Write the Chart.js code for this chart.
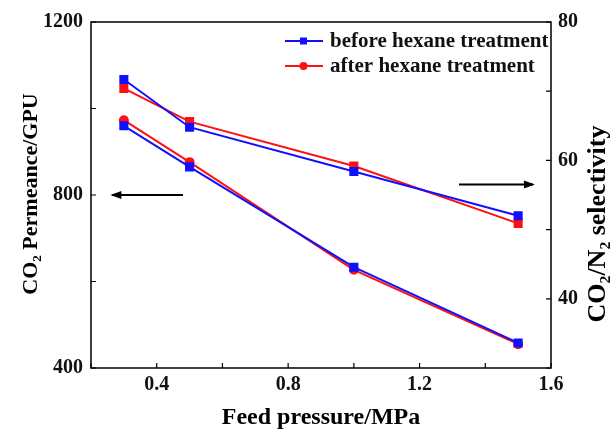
<!DOCTYPE html>
<html>
<head>
<meta charset="utf-8">
<script src="https://cdn.jsdelivr.net/npm/chart.js@4.4.0/dist/chart.umd.min.js"></script>
<style>
  body { margin: 0; background: #fff; }
  #wrap { width: 612px; height: 429px; }
</style>
</head>
<body>
<div id="wrap"><canvas id="myChart" width="612" height="429"></canvas></div>
<script>
// feed pressure (MPa)
const pressure = [0.3, 0.5, 1.0, 1.5];

// CO2 permeance, GPU (left axis)
const permBefore = [960, 865, 633, 458];
const permAfter = [973, 876, 627, 455];

// CO2/N2 selectivity (right axis)
const selBefore = [71.7, 64.8, 58.4, 52.0];
const selAfter = [70.4, 65.6, 59.2, 50.9];

const legendNames = ['before hexane treatment', 'after hexane treatment'];
const xLabels = [0.4, 0.8, 1.2, 1.6];
const leftLabels = [400, 800, 1200];
const rightLabels = [40, 60, 80];

const FONT = '"Liberation Serif", "Times New Roman", serif';
const BLUE = '#1010ff';
const RED = '#ff1010';

function pts(xs, ys) {
    return xs.map((x, i) => ({ x: x, y: ys[i] }));
}

// inside ticks, frame, titles, arrows, legend
const decorPlugin = {
    id: 'decor',
    afterDraw(chart) {
        const ctx = chart.ctx;
        const a = chart.chartArea;
        const sx = chart.scales.x;
        const sl = chart.scales.y;
        const sr = chart.scales.y2;
        ctx.save();
        ctx.strokeStyle = '#000';
        ctx.lineWidth = 1.5;
        ctx.strokeRect(a.left, a.top, a.right - a.left, a.bottom - a.top);

        ctx.lineWidth = 1.2;
        ctx.beginPath();
        sx.ticks.forEach(t => {
            const px = sx.getPixelForValue(t.value);
            ctx.moveTo(px, a.bottom);
            ctx.lineTo(px, a.bottom - 5);
        });
        sl.ticks.forEach(t => {
            const py = sl.getPixelForValue(t.value);
            ctx.moveTo(a.left, py);
            ctx.lineTo(a.left + 5, py);
        });
        sr.ticks.forEach(t => {
            const py = sr.getPixelForValue(t.value);
            ctx.moveTo(a.right, py);
            ctx.lineTo(a.right - 5, py);
        });
        ctx.stroke();

        // arrows
        function arrow(x1, x2, y) {
            ctx.beginPath();
            ctx.lineWidth = 2;
            ctx.moveTo(x1, y);
            ctx.lineTo(x2, y);
            ctx.stroke();
            const d = x2 > x1 ? 1 : -1;
            ctx.beginPath();
            ctx.fillStyle = '#000';
            ctx.moveTo(x2 + d * 2, y);
            ctx.lineTo(x2 - d * 9, y - 4);
            ctx.lineTo(x2 - d * 9, y + 4);
            ctx.closePath();
            ctx.fill();
        }
        arrow(sx.getPixelForValue(0.48), sx.getPixelForValue(0.265), sl.getPixelForValue(800));
        arrow(sx.getPixelForValue(1.32), sx.getPixelForValue(1.545), sr.getPixelForValue(56.5));

        // titles
        ctx.fillStyle = '#000';
        ctx.textAlign = 'center';
        ctx.textBaseline = 'middle';
        ctx.font = 'bold 24px ' + FONT;
        ctx.fillText('Feed pressure/MPa', (a.left + a.right) / 2, 418);
        ctx.font = 'bold 22px ' + FONT;
        ctx.save();
        ctx.translate(31, 194);
        ctx.rotate(-Math.PI / 2);
        ctx.fillText('CO\u2082 Permeance/GPU', 0, 0);
        ctx.restore();
        ctx.font = 'bold 26px ' + FONT;
        ctx.save();
        ctx.translate(598, 224);
        ctx.rotate(-Math.PI / 2);
        ctx.fillText('CO\u2082/N\u2082 selectivity', 0, 0);
        ctx.restore();

        // legend
        const cols = [BLUE, RED];
        const shapes = ['rect', 'circle'];
        ctx.textAlign = 'left';
        ctx.font = 'bold 21px ' + FONT;
        legendNames.forEach((name, i) => {
            const y = 41 + i * 25;
            ctx.strokeStyle = cols[i];
            ctx.fillStyle = cols[i];
            ctx.lineWidth = 2;
            ctx.beginPath();
            ctx.moveTo(285, y);
            ctx.lineTo(323, y);
            ctx.stroke();
            ctx.beginPath();
            if (shapes[i] === 'rect') {
                ctx.rect(300, y - 3.5, 7, 7);
            } else {
                ctx.arc(303.5, y, 4, 0, Math.PI * 2);
            }
            ctx.fill();
            ctx.fillStyle = '#111';
            ctx.fillText(name, 330, y + 1);
        });
        ctx.restore();
    }
};

const ctx = document.getElementById('myChart').getContext('2d');

const tickFont = { family: FONT, size: 20, weight: 'bold' };

const myChart = new Chart(ctx, {
    type: 'line',
    data: {
        datasets: [
            {
                label: 'sel before',
                data: pts(pressure, selBefore),
                yAxisID: 'y2',
                borderColor: BLUE,
                backgroundColor: BLUE,
                pointStyle: 'rect',
                pointRadius: 5,
                borderWidth: 2
            },
            {
                label: 'sel after',
                data: pts(pressure, selAfter),
                yAxisID: 'y2',
                borderColor: RED,
                backgroundColor: RED,
                pointStyle: 'rect',
                pointRadius: 5,
                borderWidth: 2
            },
            {
                label: legendNames[0],
                data: pts(pressure, permBefore),
                yAxisID: 'y',
                borderColor: BLUE,
                backgroundColor: BLUE,
                pointStyle: 'rect',
                pointRadius: 5,
                borderWidth: 2
            },
            {
                label: legendNames[1],
                data: pts(pressure, permAfter),
                yAxisID: 'y',
                borderColor: RED,
                backgroundColor: RED,
                pointStyle: 'circle',
                pointRadius: 4,
                borderWidth: 2
            }
        ]
    },
    options: {
        responsive: false,
        animation: false,
        layout: { padding: { top: 22, left: 0, right: 0, bottom: 0 } },
        plugins: {
            legend: { display: false },
            tooltip: { enabled: false }
        },
        scales: {
            x: {
                type: 'linear',
                min: 0.2,
                max: 1.6,
                afterFit: s => { s.height = 61; },
                ticks: {
                    stepSize: 0.2,
                    padding: 5,
                    color: '#111',
                    font: tickFont,
                    maxRotation: 0,
                    callback: v => {
                        const r = Math.round(v * 10) / 10;
                        return xLabels.includes(r) ? r.toFixed(1) : '';
                    }
                },
                grid: { drawOnChartArea: false, drawTicks: false },
                border: { display: false }
            },
            y: {
                position: 'left',
                min: 400,
                max: 1200,
                afterFit: s => { s.width = 91; },
                ticks: {
                    stepSize: 200,
                    padding: 8,
                    color: '#111',
                    font: tickFont,
                    callback: v => leftLabels.includes(v) ? String(v) : ''
                },
                grid: { drawOnChartArea: false, drawTicks: false },
                border: { display: false }
            },
            y2: {
                position: 'right',
                min: 30,
                max: 80,
                afterFit: s => { s.width = 61; },
                ticks: {
                    stepSize: 10,
                    padding: 7,
                    color: '#111',
                    font: tickFont,
                    callback: v => rightLabels.includes(v) ? String(v) : ''
                },
                grid: { drawOnChartArea: false, drawTicks: false },
                border: { display: false }
            }
        }
    },
    plugins: [decorPlugin]
});
</script>
</body>
</html>
